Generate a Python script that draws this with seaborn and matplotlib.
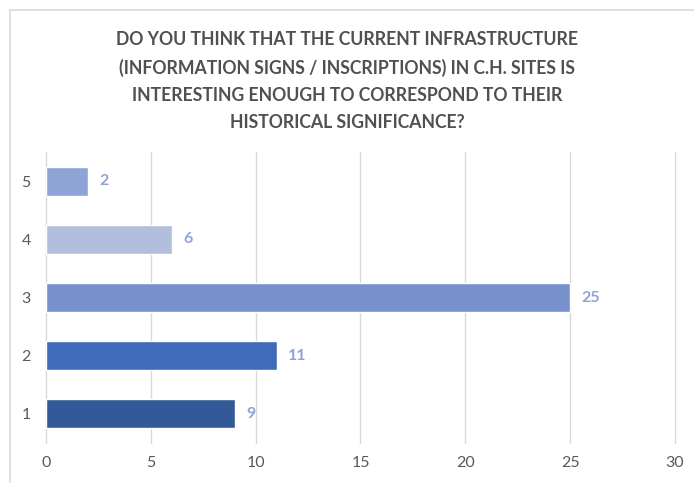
import matplotlib
matplotlib.use("Agg")
import matplotlib.pyplot as plt
import seaborn as sns
import pandas as pd
from matplotlib.patches import Rectangle

categories = ["5", "4", "3", "2", "1"]
counts = [2, 6, 25, 11, 9]
bar_colors = ["#8FA4D6", "#B3BEDF", "#7891CD", "#3F6BB8", "#335A98"]
x_ticks = [0, 5, 10, 15, 20, 25, 30]
title = ("DO YOU THINK THAT THE CURRENT INFRASTRUCTURE\n"
         "(INFORMATION SIGNS / INSCRIPTIONS) IN C.H. SITES IS\n"
         "INTERESTING ENOUGH TO CORRESPOND TO THEIR\n"
         "HISTORICAL SIGNIFICANCE?")

df = pd.DataFrame({"answer": categories, "count": counts})

sns.set_theme(style="white")
plt.rcParams["font.family"] = ["Lato", "DejaVu Sans"]

fig = plt.figure(figsize=(6.94, 4.83), dpi=100)
ax = fig.add_axes([0.0663, 0.0828, 0.9063, 0.6022])

sns.barplot(data=df, x="count", y="answer", hue="answer", palette=bar_colors,
            order=categories, legend=False, width=0.5, ax=ax, saturation=1)

ax.set_xlim(0, 30)
ax.set_xticks(x_ticks)
ax.xaxis.grid(True, color="#D9D9D9", linewidth=1)
for gl in ax.get_xgridlines():
    gl.set_clip_on(False)
ax.set_axisbelow(True)
for s in ax.spines.values():
    s.set_visible(False)
ax.set_xlabel("")
ax.set_ylabel("")
ax.tick_params(axis="both", length=0, labelsize=11.5, colors="#595959", pad=9)
ax.tick_params(axis="y", pad=11)

for patch, v in zip(ax.patches, counts):
    y = patch.get_y() + patch.get_height() / 2
    ax.text(v + 0.55, y, str(v), va="center", ha="left", fontsize=11.5,
            fontweight="bold", color="#8FA3D6")

fig.text(0.5, 0.833, title, ha="center", va="center", fontsize=12.7,
         fontweight="bold", color="#505050", linespacing=1.72)

# chart frame
fig.patches.append(Rectangle((10 / 694, -0.1), 1.0, (483 - 10) / 483 + 0.1,
                             transform=fig.transFigure, fill=False,
                             edgecolor="#D9D9D9", linewidth=1.2))

fig.savefig("out.png", dpi=100)
